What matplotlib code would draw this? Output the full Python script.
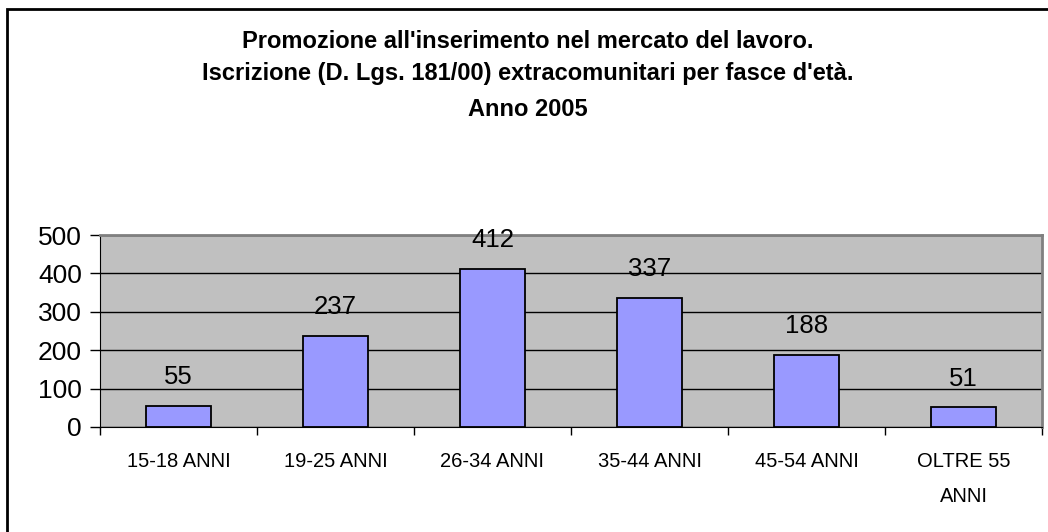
import numpy as np
import matplotlib.pyplot as plt
from matplotlib.patches import Rectangle

plt.rcParams['font.family'] = ['Liberation Sans', 'DejaVu Sans']

# data
categories = ['15-18 ANNI', '19-25 ANNI', '26-34 ANNI', '35-44 ANNI',
              '45-54 ANNI', 'OLTRE 55\nANNI']
values = [55, 237, 412, 337, 188, 51]
title_lines = ["Promozione all'inserimento nel mercato del lavoro.",
               "Iscrizione (D. Lgs. 181/00) extracomunitari per fasce d'età.",
               "Anno 2005"]

fig = plt.figure(figsize=(10.48, 5.32), dpi=100)
ax = fig.add_axes([100 / 1048, 1 - 427 / 532, 942 / 1048, 192 / 532])

# outer chart frame (cut off at right/bottom like the reference)
fig.patches.append(Rectangle((7 / 1048, -0.05), 1.1, 1 - 9 / 532 + 0.05,
                             transform=fig.transFigure, fill=False,
                             edgecolor='black', linewidth=2))

x = np.arange(len(categories))
ax.set_facecolor('#c0c0c0')
ax.bar(x, values, width=0.41, color='#9999ff', edgecolor='black',
       linewidth=1.3, zorder=3)

for xi, v in zip(x, values):
    ax.annotate(str(v), (xi, v), xytext=(0, 12), textcoords='offset points',
                ha='center', va='bottom', fontsize=18.5)

ax.set_xlim(-0.5, len(categories) - 0.5)
ax.set_ylim(0, 500)
ax.set_yticks(range(0, 501, 100))
ax.yaxis.grid(True, color='black', linewidth=1, zorder=1)
ax.set_axisbelow(True)

# category labels centered, ticks on the boundaries
ax.set_xticks(x)
ax.set_xticklabels(categories, fontsize=14.5, linespacing=2.05)
ax.tick_params(axis='x', which='major', length=0, pad=18)
ax.set_xticks(np.arange(-0.5, len(categories)), minor=True)
ax.tick_params(axis='x', which='minor', length=6, width=1, direction='out')
ax.tick_params(axis='y', length=7, width=1, labelsize=19, pad=6)

for side in ['top', 'right']:
    ax.spines[side].set_color('#808080')
    ax.spines[side].set_linewidth(2)
ax.spines['left'].set_color('black')
ax.spines['bottom'].set_color('black')

ys = [42, 73, 110]
for t, yy in zip(title_lines, ys):
    fig.text(0.5 * (7 + 1048) / 1048, 1 - yy / 532, t, ha='center', va='center',
             fontsize=17, fontweight='bold')

fig.savefig('out.png', dpi=100)
